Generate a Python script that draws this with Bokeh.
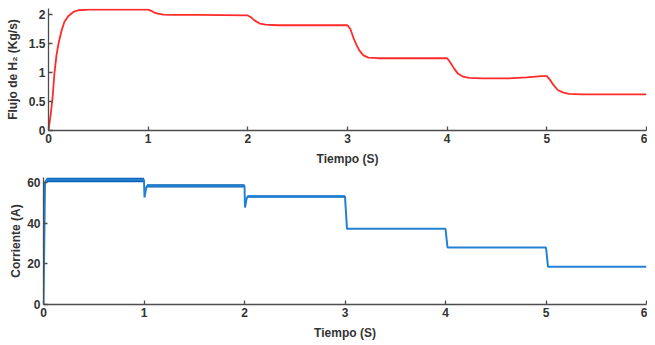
from bokeh.plotting import figure
from bokeh.models import Range1d, CustomJSTickFormatter, FixedTicker
from bokeh.embed import file_html
from bokeh.resources import INLINE

# ---- data ----
t_flow = [0, 0.02, 0.04, 0.06, 0.08, 0.10, 0.13, 0.16, 0.20, 0.25, 0.30, 0.40, 0.60, 0.90, 1.00,
          1.03, 1.06, 1.10, 1.15, 1.25, 1.50, 2.00, 2.03, 2.07, 2.12, 2.18, 2.30, 2.60, 3.00,
          3.03, 3.06, 3.09, 3.12, 3.16, 3.21, 3.30, 3.50, 4.00, 4.03, 4.07, 4.11, 4.16, 4.22,
          4.35, 4.60, 4.80, 4.95, 5.00, 5.03, 5.07, 5.11, 5.16, 5.22, 5.35, 5.60, 6.00]
flow = [0, 0.25, 0.55, 1.0, 1.3, 1.5, 1.72, 1.88, 1.98, 2.05, 2.08, 2.09, 2.09, 2.09, 2.09,
        2.07, 2.04, 2.02, 2.005, 2.0, 2.0, 1.99, 1.96, 1.90, 1.85, 1.83, 1.82, 1.82, 1.82,
        1.75, 1.60, 1.48, 1.38, 1.30, 1.26, 1.25, 1.25, 1.25, 1.18, 1.07, 0.98, 0.93, 0.91,
        0.90, 0.90, 0.92, 0.94, 0.94, 0.88, 0.78, 0.70, 0.66, 0.635, 0.625, 0.625, 0.625]

t_cur = [0, 0.015, 0.03, 1.0, 1.005, 1.02, 1.03, 2.0, 2.005, 2.02, 2.03, 3.0, 3.02, 4.0, 4.02, 5.0, 5.02, 6.0]
cur = [0, 60, 61.5, 61.5, 52.7, 57, 58.5, 58.5, 47.8, 52, 53.2, 53.2, 37.3, 37.3, 28.1, 28.1, 18.6, 18.6]

# ripple bands of the current
band1_t = [0.03, 1.0]
band1_lo = [60.3, 60.3]
band1_hi = [62.6, 62.6]
band2_t = [1.03, 2.0]
band2_lo = [57.7, 57.7]
band2_hi = [59.3, 59.3]
band3_t = [2.03, 3.0]
band3_lo = [52.6, 52.6]
band3_hi = [53.8, 53.8]

x_ticks = [0, 1, 2, 3, 4, 5, 6]
flow_ticks = [0, 0.5, 1, 1.5, 2]
cur_ticks = [0, 20, 40, 60]

FONT = "Liberation Sans"
AX = "#4d4d4d"
TXT = "#333333"


def style(p, yticks, ylab_standoff):
    p.grid.visible = False
    p.outline_line_color = None
    p.xaxis.ticker = FixedTicker(ticks=x_ticks)
    p.yaxis.ticker = FixedTicker(ticks=yticks)
    p.yaxis.formatter = CustomJSTickFormatter(code="return String(tick)")
    for ax in (p.xaxis[0], p.yaxis[0]):
        ax.axis_line_color = AX
        ax.axis_line_width = 1.3
        ax.major_tick_line_color = AX
        ax.major_tick_line_width = 1.3
        ax.major_tick_in = 4
        ax.major_tick_out = 0
        ax.minor_tick_line_color = None
        ax.major_label_text_font = FONT
        ax.major_label_text_font_style = "bold"
        ax.major_label_text_font_size = "12px"
        ax.major_label_text_color = TXT
        ax.axis_label_text_font = FONT
        ax.axis_label_text_font_style = "bold"
        ax.axis_label_text_font_size = "12px"
        ax.axis_label_text_color = TXT
        ax.major_label_standoff = 3
    p.xaxis.axis_label = "Tiempo (S)"
    p.xaxis.axis_label_standoff = 6
    p.yaxis.axis_label_standoff = ylab_standoff


p1 = figure(width=647, height=168, output_backend="svg", toolbar_location=None,
            x_range=Range1d(0, 6), y_range=Range1d(0, 2.11),
            min_border_left=48, min_border_right=1, min_border_top=8, min_border_bottom=37)
p1.line(t_flow, flow, line_color="#ff2a2a", line_width=1.8)
style(p1, flow_ticks, 6)
p1.yaxis.axis_label = "Flujo de H\u2082 (Kg/s)"

p2 = figure(width=647, height=174, output_backend="svg", toolbar_location=None,
            x_range=Range1d(0, 6), y_range=Range1d(0, 62.6),
            min_border_left=43, min_border_right=1, min_border_top=9, min_border_bottom=37)
p2.varea(band1_t, band1_lo, band1_hi, fill_color="#0a5fae")
p2.varea(band2_t, band2_lo, band2_hi, fill_color="#0a5fae")
p2.varea(band3_t, band3_lo, band3_hi, fill_color="#1a72c4")
p2.line(t_cur, cur, line_color="#2381d3", line_width=2)
style(p2, cur_ticks, 1)
p2.yaxis.axis_label = "Corriente (A)"

open("out.html", "w").write(file_html([p1, p2], INLINE))
